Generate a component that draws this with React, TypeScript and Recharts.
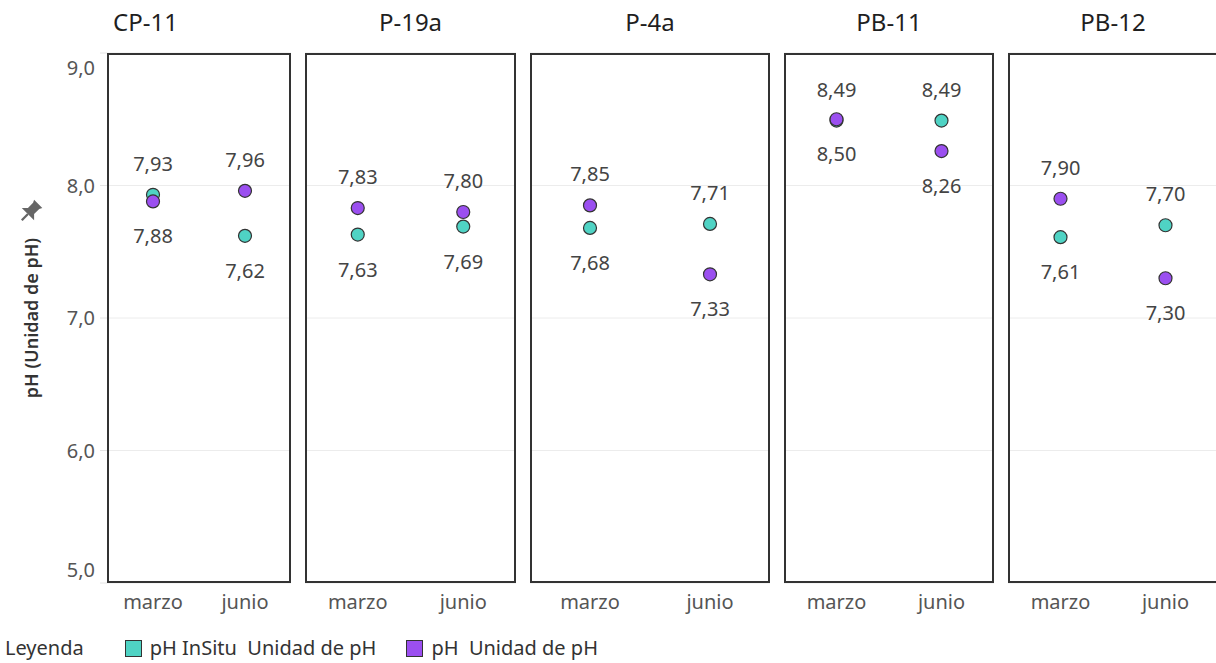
import { ComposedChart, Scatter, XAxis, YAxis, CartesianGrid } from 'recharts';

const sites = ['CP-11', 'P-19a', 'P-4a', 'PB-11', 'PB-12'];
const months = ['marzo', 'junio'];
// pH InSitu (teal) and pH de laboratorio (purple), one pair per site: [marzo, junio]
const phInSitu = [
  [7.93, 7.62],
  [7.63, 7.69],
  [7.68, 7.71],
  [8.49, 8.49],
  [7.61, 7.7],
];
const phLab = [
  [7.88, 7.96],
  [7.83, 7.8],
  [7.85, 7.33],
  [8.5, 8.26],
  [7.9, 7.3],
];
const yTicks = [5, 6, 7, 8, 9];

const TEAL = '#4fd3c4';
const PURPLE = '#9b4ff0';
const FONT = '"Noto Sans", "Open Sans", sans-serif';

// layout of the panes (pixels)
const paneLeft = [107, 305, 530, 784, 1008];
const paneWidth = [184, 211, 240, 210, 210];
const PLOT_TOP = 53;
const PLOT_H = 530;
const AXIS_W = 107;
const CHART_H = PLOT_TOP + PLOT_H + 40;

const fmt = (v: number, d: number) => v.toFixed(d).replace('.', ',');

const makeDot = (key: 'insitu' | 'lab', other: 'insitu' | 'lab', color: string) => (props: any) => {
  const { cx, cy, payload } = props;
  if (cx == null || cy == null) return <g />;
  const v = payload[key];
  const w = payload[other];
  const above = Math.abs(v - w) < 0.02 ? key === 'insitu' : v > w;
  return (
    <g>
      <circle cx={cx} cy={cy} r={6.5} fill={color} stroke="#333" strokeWidth={1.2} />
      <text
        x={cx}
        y={above ? cy - 31 : cy + 35}
        dy="0.35em"
        textAnchor="middle"
        fontSize={20}
        fontFamily={FONT}
        fill="#444"
      >
        {fmt(v, 2)}
      </text>
    </g>
  );
};

const YTick = ({ x, y, payload }: any) => {
  const v = payload.value;
  const shift = v === 9 ? 15 : v === 5 ? -13 : 0;
  return (
    <text x={x} y={y + shift} dy="0.35em" textAnchor="end" fontSize={20} fontFamily={FONT} fill="#555">
      {fmt(v, 1)}
    </text>
  );
};

const YLabel = ({ viewBox }: any) => {
  const x = viewBox.x + 32;
  const y = viewBox.y + viewBox.height / 2;
  return (
    <g>
      <text
        x={x}
        y={y}
        transform={`rotate(-90, ${x}, ${y})`}
        textAnchor="middle"
        dy="0.35em"
        fontSize={18}
        fontWeight={600}
        fontFamily={FONT}
        fill="#333"
      >
        pH (Unidad de pH)
      </text>
      <g transform={`translate(${x - 2}, ${y - 106}) rotate(45) scale(1.45)`} fill="#666">
        <path d="M-4,-8 L4,-8 L3,-6 L3,-1 L6,2 L-6,2 L-3,-1 L-3,-6 Z" />
        <rect x={-0.8} y={2} width={1.6} height={6} />
      </g>
    </g>
  );
};

function Pane({ index }: { index: number }) {
  const first = index === 0;
  const w = paneWidth[index];
  const chartW = first ? AXIS_W + w : w;
  const left = first ? 0 : paneLeft[index];
  const data = months.map((m, j) => ({ mes: m, insitu: phInSitu[index][j], lab: phLab[index][j] }));

  return (
    <>
      <div
        style={{
          position: 'absolute',
          left,
          top: 6,
          width: chartW,
          textAlign: 'center',
          fontSize: 24,
          fontWeight: 400,
          color: '#1f1f1f',
          lineHeight: '32px',
        }}
      >
        {sites[index]}
      </div>
      <div style={{ position: 'absolute', left, top: 0 }}>
        <ComposedChart
          width={chartW}
          height={CHART_H}
          data={data}
          margin={{ top: PLOT_TOP, right: 0, bottom: 0, left: 0 }}
        >
          <CartesianGrid vertical={false} stroke="#ececec" />
          <XAxis
            dataKey="mes"
            scale="point"
            padding={{ left: w / 4, right: w / 4 }}
            axisLine={false}
            tickLine={false}
            tickSize={0}
            tickMargin={12}
            height={40}
            interval={0}
            tick={{ fontSize: 20, fill: '#555', fontFamily: FONT }}
          />
          <YAxis
            type="number"
            domain={[5, 9]}
            ticks={yTicks}
            hide={!first}
            width={AXIS_W}
            axisLine={false}
            tickLine={{ stroke: '#e4e4e4' }}
            tickSize={7}
            tickMargin={5}
            tick={<YTick />}
            label={<YLabel />}
          />
          <Scatter dataKey="insitu" name="pH InSitu  Unidad de pH" fill={TEAL} isAnimationActive={false} shape={makeDot('insitu', 'lab', TEAL)} />
          <Scatter dataKey="lab" name="pH  Unidad de pH" fill={PURPLE} isAnimationActive={false} shape={makeDot('lab', 'insitu', PURPLE)} />
        </ComposedChart>
      </div>
      <div
        style={{
          position: 'absolute',
          left: paneLeft[index],
          top: PLOT_TOP,
          width: w,
          height: PLOT_H,
          border: '2px solid #333',
          boxSizing: 'border-box',
          pointerEvents: 'none',
        }}
      />
    </>
  );
}

const LegendItem = ({ color, text }: { color: string; text: string }) => (
  <span style={{ display: 'inline-flex', alignItems: 'center', marginRight: 30 }}>
    <span
      style={{
        width: 17,
        height: 17,
        background: color,
        border: '1.5px solid #333',
        boxSizing: 'border-box',
        marginRight: 8,
      }}
    />
    <span style={{ whiteSpace: 'pre' }}>{text}</span>
  </span>
);

export default function App() {
  return (
    <div
      style={{
        position: 'absolute',
        left: 0,
        top: 0,
        width: 1216,
        height: 663,
        overflow: 'hidden',
        background: '#fff',
        fontFamily: FONT,
      }}
    >
      {sites.map((_, i) => (
        <Pane key={i} index={i} />
      ))}
      <div
        style={{
          position: 'absolute',
          left: 5,
          top: 634,
          display: 'flex',
          alignItems: 'center',
          fontSize: 20,
          color: '#333',
          lineHeight: '28px',
        }}
      >
        <span style={{ marginRight: 41 }}>Leyenda</span>
        <LegendItem color={TEAL} text="pH InSitu  Unidad de pH" />
        <LegendItem color={PURPLE} text="pH  Unidad de pH" />
      </div>
    </div>
  );
}
